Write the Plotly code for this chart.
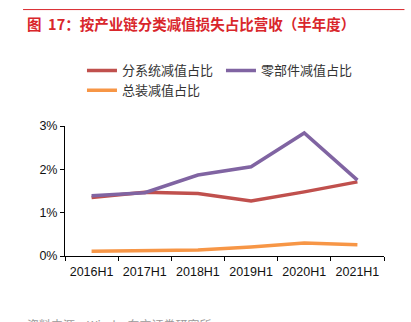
import plotly.graph_objects as go

# Half-year periods and impairment-loss ratios (% of revenue)
periods = ["2016H1", "2017H1", "2018H1", "2019H1", "2020H1", "2021H1"]
subsystem = [1.35, 1.47, 1.44, 1.27, 1.48, 1.71]
components = [1.39, 1.46, 1.87, 2.06, 2.84, 1.75]
assembly = [0.11, 0.12, 0.14, 0.21, 0.30, 0.26]

series_names = ["分系统减值占比", "零部件减值占比", "总装减值占比"]
series_colors = ["#C0504D", "#8064A2", "#F79646"]

W, H = 411, 322
L, R, T, B = 65, 26.5, 125.7, 66
PW, PH = W - L - R, H - T - B


def px_x(p):
    return (p - L) / PW


def px_y(p):
    return (H - B - p) / PH


fig = go.Figure()
for name, vals, col in zip(series_names, [subsystem, components, assembly], series_colors):
    fig.add_trace(go.Scatter(
        x=periods, y=[v / 100 for v in vals], name=name, mode="lines",
        line=dict(color=col, width=3.5),
    ))

font_cn = "Noto Sans CJK SC, Liberation Sans, sans-serif"

fig.update_layout(
    width=W, height=H,
    margin=dict(l=L, r=R, t=T, b=B, pad=0),
    paper_bgcolor="white", plot_bgcolor="white",
    showlegend=True,
    legend=dict(
        orientation="h", x=px_x(82), y=px_y(55), xanchor="left", yanchor="top",
        entrywidth=94, entrywidthmode="pixels",
        font=dict(family=font_cn, size=13, color="#333333"),
        bgcolor="rgba(0,0,0,0)", tracegroupgap=0, itemwidth=30,
    ),
    xaxis=dict(
        type="category", range=[-0.5, 5.5], showgrid=False,
        showline=True, linecolor="#000000", linewidth=1,
        ticks="outside", tickson="boundaries", ticklen=4, tickcolor="#000000",
        ticklabelstandoff=4,
        tickfont=dict(family="Liberation Sans, Arial, sans-serif", size=12.5, color="#111111"),
    ),
    yaxis=dict(
        range=[0, 0.03], tickvals=[0, 0.01, 0.02, 0.03], tickformat=".0%",
        showgrid=False, zeroline=False,
        showline=True, linecolor="#000000", linewidth=1,
        ticks="outside", ticklen=4, tickcolor="#000000",
        tickfont=dict(family="Liberation Sans, Arial, sans-serif", size=12.5, color="#111111"),
    ),
    shapes=[dict(
        type="line", xref="paper", yref="paper",
        x0=px_x(23), x1=px_x(405), y0=px_y(9), y1=px_y(9),
        line=dict(color="#D9262B", width=1),
    )],
    annotations=[
        dict(
            text="<b>图  17：按产业链分类减值损失占比营收（半年度）</b>",
            xref="paper", yref="paper", x=px_x(25), y=px_y(23),
            xanchor="left", yanchor="middle", showarrow=False,
            font=dict(family=font_cn, size=14.5, color="#D9262B"),
        ),
        dict(
            text="资料来源：Wind，东方证券研究所",
            xref="paper", yref="paper", x=px_x(25), y=px_y(314),
            xanchor="left", yanchor="top", showarrow=False,
            font=dict(family=font_cn, size=12, color="#9A9A9A"),
        ),
    ],
)

fig.write_html("out.html")
